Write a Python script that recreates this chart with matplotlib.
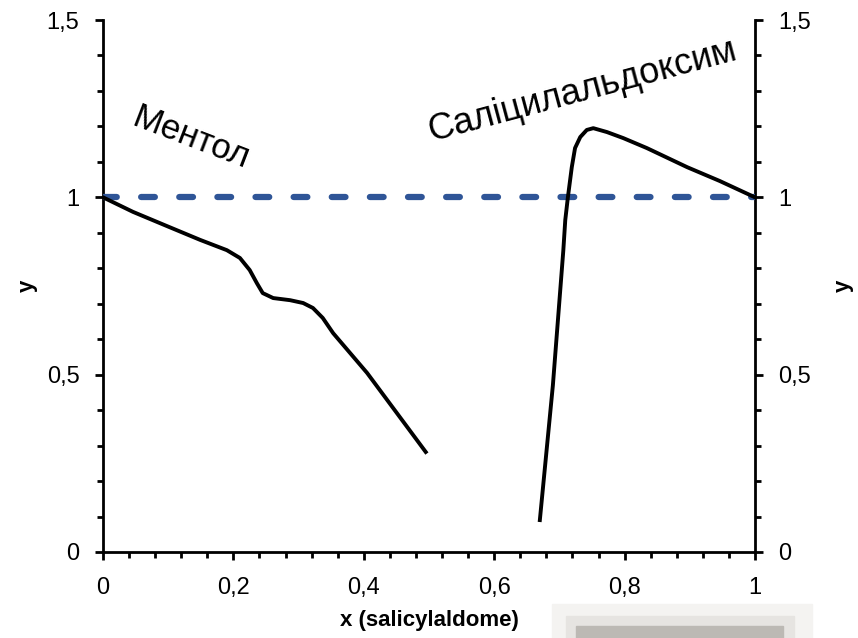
import matplotlib.pyplot as plt
from matplotlib.ticker import MultipleLocator, FuncFormatter
from matplotlib.patches import Rectangle

plt.rcParams['font.family'] = ['Liberation Sans', 'DejaVu Sans']

# Ментол (left branch)
menthol_x = [0.0, 0.046, 0.098, 0.149, 0.190, 0.210, 0.225, 0.236, 0.245, 0.261, 0.287,
             0.307, 0.322, 0.337, 0.353, 0.379, 0.405, 0.495]
menthol_y = [1.0, 0.959, 0.919, 0.880, 0.851, 0.829, 0.795, 0.758, 0.730, 0.716, 0.710,
             0.702, 0.688, 0.660, 0.617, 0.561, 0.505, 0.282]

# Саліцилальдоксим (right branch)
salox_x = [0.670, 0.690, 0.706, 0.709, 0.713, 0.719, 0.724, 0.732, 0.742, 0.752, 0.773,
           0.798, 0.834, 0.896, 0.946, 1.0]
salox_y = [0.090, 0.470, 0.850, 0.936, 1.0, 1.085, 1.139, 1.170, 1.190, 1.195, 1.184,
           1.167, 1.139, 1.085, 1.046, 1.0]

ideal_x = [0.0, 1.0]
ideal_y = [1.0, 1.0]


def comma(v, pos):
    return f"{v:g}".replace('.', ',')


fig = plt.figure(figsize=(8.58, 6.38), dpi=100)
ax = fig.add_axes([103 / 858, 86 / 638, 652 / 858, 532 / 638])

ax.plot(ideal_x, ideal_y, color='#2f5597', lw=4.5, ls=(0, (2.2, 3.9)),
        dash_capstyle='round', zorder=3)
ax.plot(menthol_x, menthol_y, color='black', lw=2.8, solid_joinstyle='round', zorder=4)
ax.plot(salox_x, salox_y, color='black', lw=2.8, solid_joinstyle='round', zorder=4)

ax.set_xlim(0, 1)
ax.set_ylim(0, 1.5)
ax.spines['top'].set_visible(False)
for s in ['left', 'right', 'bottom']:
    ax.spines[s].set_linewidth(2)

ax.xaxis.set_major_locator(MultipleLocator(0.2))
ax.xaxis.set_minor_locator(MultipleLocator(0.04))
ax.yaxis.set_major_locator(MultipleLocator(0.5))
ax.yaxis.set_minor_locator(MultipleLocator(0.1))
ax.xaxis.set_major_formatter(FuncFormatter(comma))
ax.yaxis.set_major_formatter(FuncFormatter(comma))

ax.tick_params(axis='x', which='major', direction='out', length=6, width=2, labelsize=17, pad=12)
ax.tick_params(axis='x', which='minor', direction='out', length=4.5, width=2)
ax.tick_params(axis='y', which='major', direction='out', length=6, width=2, labelsize=17,
               left=True, right=True, labelleft=True, labelright=True, pad=11)
ax.tick_params(axis='y', which='minor', direction='out', length=4.5, width=2,
               left=True, right=True)

ax.set_xlabel('x (salicylaldome)', fontsize=16, fontweight='bold', labelpad=8)
ax.set_ylabel('y', fontsize=16, fontweight='bold', labelpad=6)
ax2 = ax.secondary_yaxis('right')
ax2.set_yticks([])
ax2.spines['right'].set_visible(False)
ax2.set_ylabel('y', fontsize=16, fontweight='bold', labelpad=56)

ax.text(0.135, 1.167, 'Ментол', fontsize=25, rotation=-21, ha='center', va='center')
ax.text(0.735, 1.30, 'Саліцилальдоксим', fontsize=26, rotation=15, ha='center', va='center')

# grey block at bottom right
fig.patches.append(Rectangle((552 / 858, 0), 260 / 858, 34 / 638, transform=fig.transFigure,
                             color='#f4f3f1', zorder=0))
fig.patches.append(Rectangle((566 / 858, 0), 228 / 858, 22 / 638, transform=fig.transFigure,
                             color='#e6e4e1', zorder=0))
fig.patches.append(Rectangle((576 / 858, 0), 207 / 858, 12 / 638, transform=fig.transFigure,
                             color='#bcb9b4', zorder=1))

fig.savefig('out.png', dpi=100)
